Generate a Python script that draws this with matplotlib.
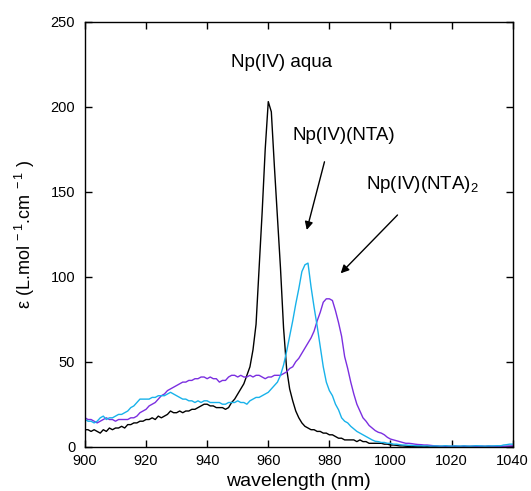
import numpy as np
import matplotlib
matplotlib.use("Agg")
import matplotlib.pyplot as plt

plt.rcParams['font.family'] = ['Liberation Sans', 'DejaVu Sans']
plt.rcParams['mathtext.fontset'] = 'custom'
plt.rcParams['mathtext.rm'] = 'Liberation Sans'
plt.rcParams['mathtext.it'] = 'Liberation Sans:italic'

# wavelength grid (nm), 1 nm step
wavelength = np.arange(900, 1041, 1)

# molar absorptivity of the Np(IV) aqua ion
eps_aqua = [
    10, 10, 9, 10, 9, 8, 10, 9, 11, 10,
    11, 11, 12, 11, 13, 13, 14, 14, 15, 15,
    16, 16, 17, 16, 18, 17, 18, 19, 21, 20,
    20, 21, 20, 21, 21, 22, 22, 23, 24, 25,
    25, 24, 24, 23, 23, 23, 22, 23, 26, 28,
    31, 34, 37, 42, 47, 57, 72, 105, 138, 175,
    203, 197, 165, 135, 105, 70, 46, 34, 27, 21,
    17, 14, 12, 11, 10, 10, 9, 9, 8, 8,
    7, 7, 6, 5, 5, 4, 4, 4, 4, 3,
    4, 3, 3, 2, 2, 2, 2, 2, 1.5, 1.5,
    1, 1, 0.8, 0.5, 0.5, 0.3, 0.2, 0.3, 0.1, 0.2,
    0.2, 0.1, 0.2, 0.1, 0.1, 0.2, 0.1, 0.1, 0.2, 0.1,
    0.1, 0.2, 0.1, 0.1, 0.2, 0.1, 0.1, 0.1, 0.2, 0.1,
    0.1, 0.1, 0.2, 0.1, 0.1, 0.1, 0.2, 0.1, 0.1, 0.1,
    0.1,
]

# Np(IV)(NTA) complex
eps_nta = [
    16, 15, 15, 14, 15, 17, 18, 16, 17, 17,
    18, 19, 19, 20, 21, 23, 24, 26, 28, 28,
    28, 28, 29, 29, 30, 30, 30, 31, 32, 31,
    30, 29, 28, 28, 27, 27, 26, 27, 26, 27,
    27, 26, 26, 26, 26, 25, 25, 26, 26, 26,
    27, 26, 26, 25, 27, 28, 29, 29, 30, 31,
    32, 34, 36, 38, 42, 48, 56, 65, 74, 84,
    93, 103, 107, 108, 94, 82, 71, 59, 47, 38,
    33, 30, 25, 21.7, 17, 15, 14, 12, 10.5, 9,
    8, 7, 6, 5, 4, 3.2, 3, 2.5, 2.5, 2,
    2, 1.5, 1.5, 1.2, 1, 1, 0.8, 0.8, 0.6, 0.5,
    0.5, 0.4, 0.5, 0.3, 0.4, 0.5, 0.3, 0.4, 0.6, 0.4,
    0.3, 0.5, 0.4, 0.3, 0.5, 0.4, 0.3, 0.4, 0.6, 0.5,
    0.4, 0.3, 0.5, 0.4, 0.5, 0.6, 0.5, 1.0, 1.2, 1.5,
    1.5,
]

# Np(IV)(NTA)2 complex
eps_nta2 = [
    17, 16, 16, 15, 14, 15, 16, 17, 16, 16,
    15, 16, 16, 16, 16, 17, 17, 18, 20, 21,
    22, 24, 25, 26, 28, 30, 31, 33, 34, 35,
    36, 37, 38, 38, 39, 39, 40, 40, 41, 41,
    40, 41, 40, 40, 38, 39, 39, 41, 42, 42,
    41, 42, 41, 41, 42, 41, 42, 42, 41, 40,
    41, 41, 42, 42, 42, 43, 44, 46, 47, 50,
    52, 55, 58, 61, 64, 68, 74, 79, 85, 87,
    87, 86, 80, 73, 65, 53, 46, 38, 31, 25,
    21, 17, 15, 12.5, 11, 9.5, 8.5, 8, 7, 5.5,
    4.5, 4, 3.5, 3, 2.5, 2, 2, 1.8, 1.5, 1.3,
    1.2, 1, 1, 0.8, 0.6, 0.4, 0.3, 0.2, 0.3, 0.2,
    0.2, 0.3, 0.2, 0.2, 0.3, 0.2, 0.2, 0.3, 0.2, 0.2,
    0.3, 0.2, 0.2, 0.3, 0.2, 0.2, 0.3, 0.2, 0.3, 0.4,
    0.5,
]

xticks = [900, 920, 940, 960, 980, 1000, 1020, 1040]
yticks = [0, 50, 100, 150, 200, 250]

fig = plt.figure(figsize=(5.31, 4.91), dpi=100)
ax = fig.add_axes([0.160, 0.0902, 0.8055, 0.8656])

ax.plot(wavelength, eps_aqua, color='black', lw=1.0)
ax.plot(wavelength, eps_nta2, color='#7b2fe0', lw=1.0)
ax.plot(wavelength, eps_nta, color='#18b2ea', lw=1.0)

ax.set_xlim(900, 1040)
ax.set_ylim(0, 250)
ax.set_xticks(xticks)
ax.set_yticks(yticks)
ax.tick_params(direction='in', length=5, width=1, top=True, right=True,
               labelsize=10.5)
ax.tick_params(axis='y', pad=7)
ax.tick_params(axis='x', pad=5)
for s in ax.spines.values():
    s.set_linewidth(1.0)

ax.set_xlabel('wavelength (nm)', fontsize=14, labelpad=4)
ax.set_ylabel(r'ε (L.mol$^{\ -1}$.cm$^{\ -1}$ )', fontsize=13, labelpad=10)

ax.text(964.2, 226, 'Np(IV) aqua', fontsize=13.5, ha='center', va='center')
ax.text(984.7, 183, 'Np(IV)(NTA)', fontsize=13.5, ha='center', va='center')
ax.text(992.0, 154, r'Np(IV)(NTA)$_{2}$', fontsize=13.5, ha='left', va='center')

arrow = dict(arrowstyle='-|>', color='black', lw=1.0, mutation_scale=12,
             shrinkA=0, shrinkB=0)
ax.annotate('', xy=(972.6, 127.5), xytext=(978.4, 167.6), arrowprops=arrow)
ax.annotate('', xy=(983.7, 102), xytext=(1002.3, 136.3), arrowprops=arrow)

fig.savefig('out.png', dpi=100)
